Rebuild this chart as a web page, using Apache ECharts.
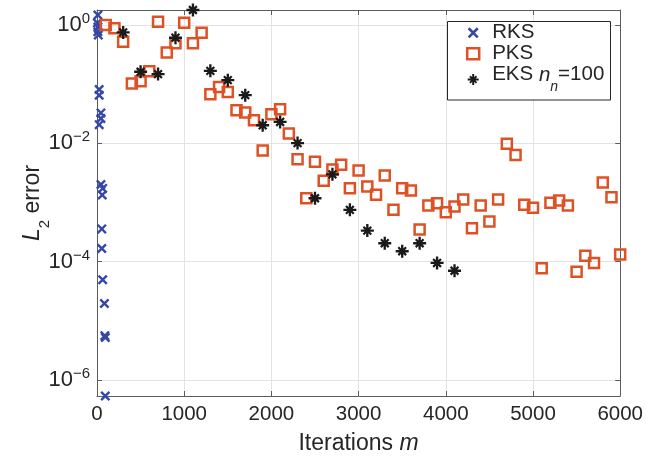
<!DOCTYPE html>
<html>
<head>
<meta charset="utf-8">
<script src="https://cdn.jsdelivr.net/npm/echarts@6/dist/echarts.min.js"></script>
<style>
  html, body { margin: 0; padding: 0; background: #fff; }
  #chart { width: 646px; height: 456px; }
</style>
</head>
<body>
<div id="chart"></div>
<script>
// Convergence of the L2 error against the number of iterations m

// RKS: random Kaczmarz sweeps (all runs end within the first 100 iterations)
const rksIter = [10, 5, 10, 10, 15, 25, 25, 45, 45, 25, 45, 65, 60, 55, 55, 65, 85, 95, 90, 95];
const rksErr = [1.476, 1.08, 0.925, 0.77, 0.676, 0.0813, 0.0652, 0.0327, 0.0263, 0.0207,
  0.00202, 0.00173, 0.00134, 0.000358, 0.000167, 0.0000495, 0.0000196, 0.00000521, 0.00000562, 0.000000536];

// PKS: sampled every 100 iterations
const pksIter = [100, 200, 300, 400, 500, 600, 700, 800, 900, 1000,
  1100, 1200, 1300, 1400, 1500, 1600, 1700, 1800, 1900, 2000,
  2100, 2200, 2300, 2400, 2500, 2600, 2700, 2800, 2900, 3000,
  3100, 3200, 3300, 3400, 3500, 3600, 3700, 3800, 3900, 4000,
  4100, 4200, 4300, 4400, 4500, 4600, 4700, 4800, 4900, 5000,
  5100, 5200, 5300, 5400, 5500, 5600, 5700, 5800, 5900, 6000];
const pksErr = [1.0, 0.88, 0.52, 0.103, 0.112, 0.166, 1.14, 0.344, 0.49, 1.09,
  0.49, 0.74, 0.0678, 0.09, 0.074, 0.0362, 0.0331, 0.0245, 0.00759, 0.031,
  0.0377, 0.0146, 0.00537, 0.00118, 0.0049, 0.00234, 0.00363, 0.00436, 0.00175, 0.00348,
  0.00187, 0.00135, 0.00287, 0.000752, 0.00175, 0.0016, 0.000348, 0.00089, 0.000975, 0.000686,
  0.000855, 0.00112, 0.000367, 0.00089, 0.000476, 0.00112, 0.00986, 0.00634, 0.000914, 0.000813,
  0.0000771, 0.000986, 0.00108, 0.00089, 0.0000678, 0.000126, 0.0000951, 0.00218, 0.00123, 0.000132];

// EKS with n_n = 100: sampled every 200 iterations
const eksIter = [300, 500, 700, 900, 1100, 1300, 1500, 1700, 1900, 2100,
  2300, 2500, 2700, 2900, 3100, 3300, 3500, 3700, 3900, 4100];
const eksErr = [0.75, 0.162, 0.148, 0.61, 1.795, 0.168, 0.117, 0.0652, 0.0202, 0.023,
  0.0101, 0.00118, 0.00299, 0.000752, 0.000335, 0.000205, 0.00015, 0.000205, 0.0000951, 0.0000703];

const xTicks = { min: 0, max: 6000, step: 1000 };

const FONT = '"Liberation Sans", Arial, Helvetica, sans-serif';
const INK = '#262626';
const FRAME = '#5c5c5c';
const GRID = '#e3e3e3';
const BLUE = '#3548a8';
const ORANGE = '#de5125';
const BLACK = '#1a1a1a';

// filled marker outlines: a bold "x" and an eight-armed asterisk
const CROSS = 'path://M0,1.7L1.7,0L10,8.3L8.3,10Z M8.3,0L10,1.7L1.7,10L0,8.3Z';
const STAR = 'path://M4.1,0L5.9,0L5.9,10L4.1,10Z M0,4.1L10,4.1L10,5.9L0,5.9Z ' +
  'M1.4,2.6L2.6,1.4L8.6,7.4L7.4,8.6Z M7.4,1.4L8.6,2.6L2.6,8.6L1.4,7.4Z';

const zip = (xs, ys) => xs.map((x, i) => [x, ys[i]]);

// axis runs tight around the data, as in the original figure
const allErr = rksErr.concat(pksErr, eksErr);
const yMin = Math.min.apply(null, allErr);
const yMax = Math.max.apply(null, allErr);

function expLabel(v) {
  const e = Math.round(Math.log10(v));
  const s = e < 0 ? '\u2212' + (-e) : String(e);
  return '{b|10}{e|' + s + '}';
}

const chart = echarts.init(document.getElementById('chart'), null, { renderer: 'canvas' });

const gridBox = { left: 97, right: 24, top: 10, bottom: 60 };

chart.setOption({
  animation: false,
  backgroundColor: '#fff',
  textStyle: { fontFamily: FONT },
  grid: Object.assign({ containLabel: false }, gridBox),
  xAxis: [
    {
      type: 'value',
      min: xTicks.min, max: xTicks.max, interval: xTicks.step,
      axisLine: { show: true, lineStyle: { color: FRAME, width: 1 } },
      axisTick: { show: true, inside: true, length: 5, lineStyle: { color: FRAME } },
      axisLabel: { color: INK, fontSize: 20.5, fontFamily: FONT, margin: 8, formatter: v => String(v) },
      splitLine: { show: true, lineStyle: { color: GRID, width: 1 } }
    },
    {
      type: 'value', position: 'top',
      min: xTicks.min, max: xTicks.max, interval: xTicks.step,
      axisLine: { show: true, onZero: false, lineStyle: { color: FRAME, width: 1 } },
      axisTick: { show: true, inside: true, length: 5, lineStyle: { color: FRAME } },
      axisLabel: { show: false },
      splitLine: { show: false }
    }
  ],
  yAxis: [
    {
      type: 'log', logBase: 100,
      min: yMin, max: yMax,
      axisLine: { show: true, lineStyle: { color: FRAME, width: 1 } },
      axisTick: { show: true, inside: true, length: 5, lineStyle: { color: FRAME } },
      axisLabel: {
        showMinLabel: false, showMaxLabel: false,
        margin: 7,
        formatter: expLabel,
        rich: {
          b: { fontSize: 22, lineHeight: 26, color: INK, fontFamily: FONT },
          e: { fontSize: 15, lineHeight: 15, padding: [0, 0, 12, 0], color: INK, fontFamily: FONT }
        }
      },
      splitLine: { show: true, lineStyle: { color: GRID, width: 1 } },
      minorTick: { show: false }
    },
    {
      type: 'log', logBase: 100, position: 'right',
      min: yMin, max: yMax,
      axisLine: { show: true, onZero: false, lineStyle: { color: FRAME, width: 1 } },
      axisTick: { show: true, inside: true, length: 5, lineStyle: { color: FRAME } },
      axisLabel: { show: false },
      splitLine: { show: false }
    }
  ],
  legend: {
    show: true,
    orient: 'vertical',
    left: 464.7, top: 22.3,
    padding: 0,
    itemGap: 0,
    itemWidth: 12, itemHeight: 11,
    selectedMode: false,
    data: [
      { name: 'RKS', icon: CROSS, itemStyle: { color: BLUE, borderWidth: 0, opacity: 1 } },
      { name: 'PKS', icon: 'rect', itemStyle: { color: 'none', borderColor: ORANGE, borderWidth: 2.5, opacity: 1 } },
      { name: 'EKS', icon: STAR, itemStyle: { color: BLACK, borderWidth: 0, opacity: 1 } }
    ],
    formatter: function (name) {
      if (name === 'EKS') {
        return '{sp| }{tt|EKS }{it|n}{sub|n}{tt|=100}';
      }
      return '{sp| }{t|' + name + '}';
    },
    textStyle: {
      color: INK, fontFamily: FONT,
      rich: {
        sp: { width: 8, fontSize: 20, lineHeight: 22 },
        t: { fontSize: 20.5, lineHeight: 22, color: INK, fontFamily: FONT },
        tt: { fontSize: 20.5, lineHeight: 20, padding: [0, 0, 9.5, 0], color: INK, fontFamily: FONT },
        it: { fontSize: 20.5, lineHeight: 20, padding: [0, 0, 9.5, 0], fontStyle: 'italic', color: INK, fontFamily: FONT },
        sub: { fontSize: 14, lineHeight: 14, padding: [15.5, 0, 0, 0], fontStyle: 'italic', color: INK, fontFamily: FONT }
      }
    }
  },
  graphic: [
    {
      type: 'rect', z: 3, silent: true,
      shape: { x: 447.5, y: 21.5, width: 163, height: 78.5 },
      style: { fill: '#fff', stroke: INK, lineWidth: 1 }
    },
    {
      type: 'text', silent: true,
      x: 358.5, y: 444,
      style: {
        text: '{n|Iterations }{i|m}',
        align: 'center', verticalAlign: 'middle',
        rich: {
          n: { fontSize: 23, fill: INK, fontFamily: FONT },
          i: { fontSize: 23, fill: INK, fontFamily: FONT, fontStyle: 'italic' }
        }
      }
    },
    {
      type: 'text', silent: true,
      x: 37, y: 203, rotation: Math.PI / 2,
      style: {
        text: '{i|L}{s|2}{n| error}',
        align: 'center', verticalAlign: 'middle',
        rich: {
          i: { fontSize: 23, lineHeight: 23, padding: [0, 0, 8, 0], fill: INK, fontFamily: FONT, fontStyle: 'italic' },
          s: { fontSize: 15, lineHeight: 15, padding: [16, 0, 0, 0], fill: INK, fontFamily: FONT },
          n: { fontSize: 23, lineHeight: 23, padding: [0, 0, 8, 0], fill: INK, fontFamily: FONT }
        }
      }
    }
  ],
  series: [
    {
      name: 'RKS', type: 'scatter', clip: false,
      xAxisIndex: 0, yAxisIndex: 0,
      symbol: CROSS, symbolSize: 10,
      itemStyle: { color: BLUE, borderWidth: 0, opacity: 1 },
      data: zip(rksIter, rksErr)
    },
    {
      name: 'PKS', type: 'scatter', clip: false,
      xAxisIndex: 0, yAxisIndex: 0,
      symbol: 'rect', symbolSize: 10,
      itemStyle: { color: 'none', borderColor: ORANGE, borderWidth: 2.5, opacity: 1 },
      data: zip(pksIter, pksErr)
    },
    {
      name: 'EKS', type: 'scatter', clip: false,
      xAxisIndex: 0, yAxisIndex: 0,
      symbol: STAR, symbolSize: 13,
      itemStyle: { color: BLACK, borderWidth: 0, opacity: 1 },
      data: zip(eksIter, eksErr)
    }
  ]
});
</script>
</body>
</html>
